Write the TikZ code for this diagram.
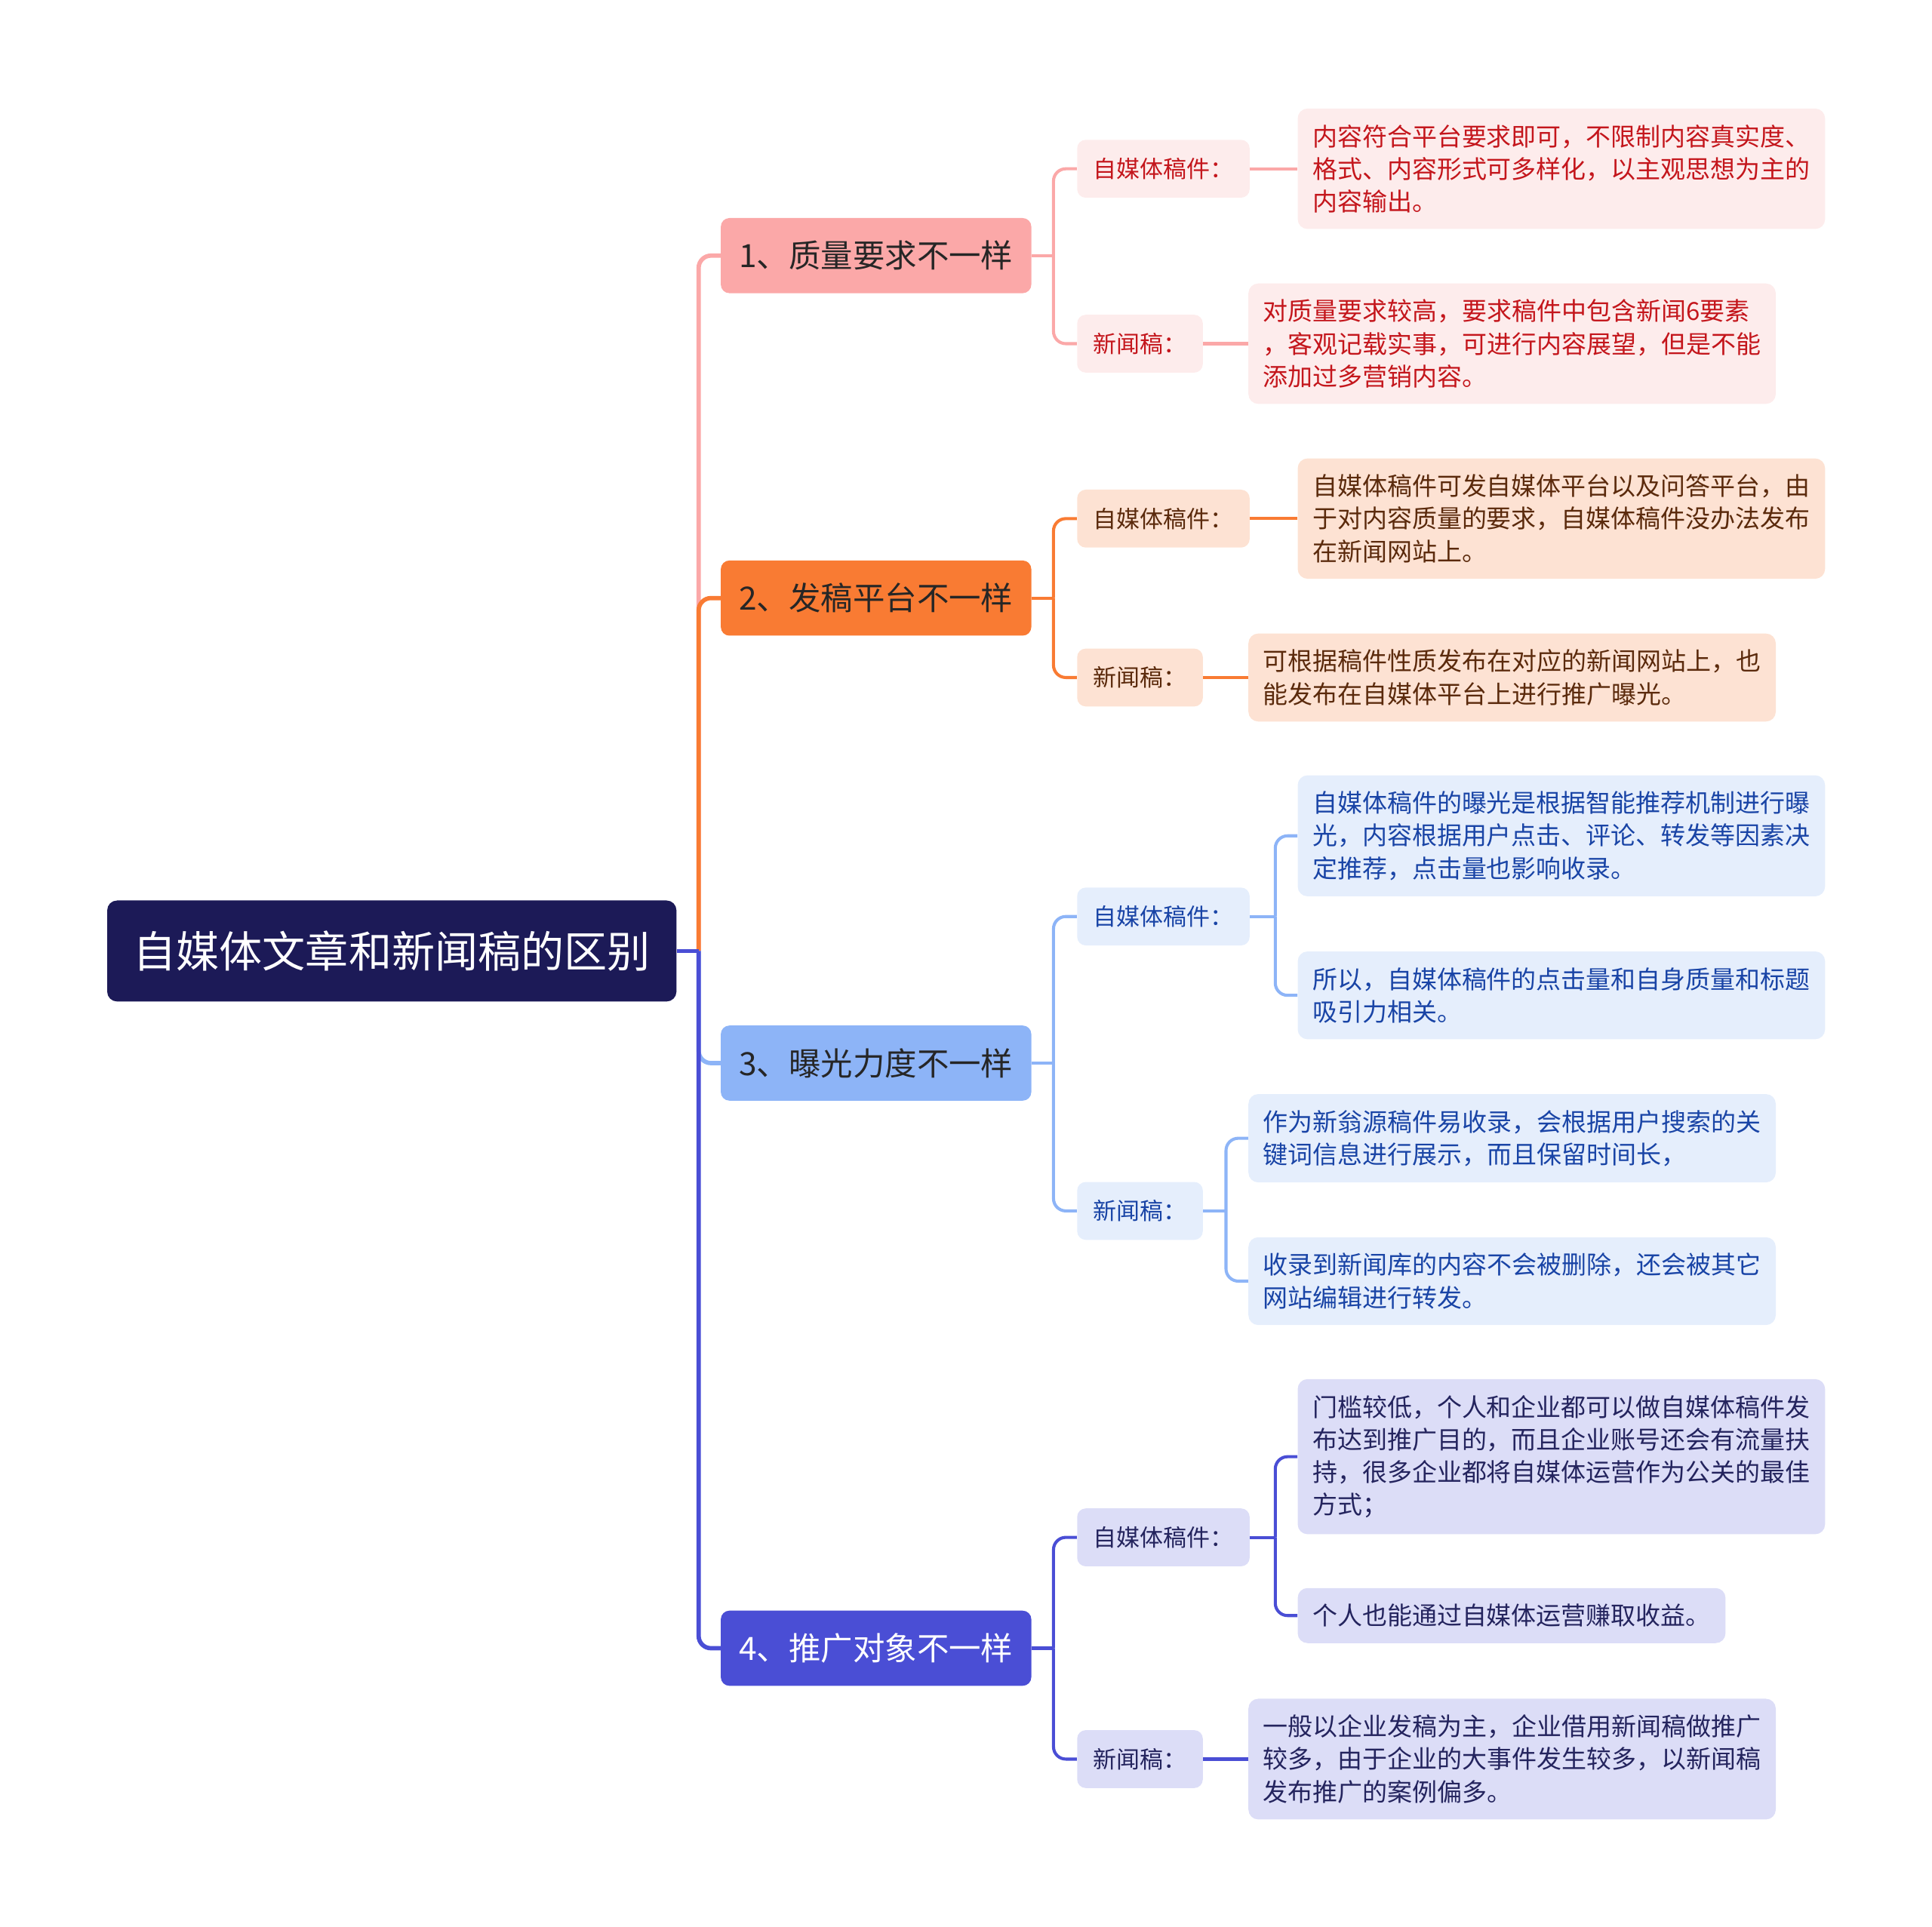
\documentclass[tikz,border=0pt]{standalone}
\usepackage{fontspec}
\newfontfamily\cjk{Noto Sans CJK SC}
\usepackage{tikz}
\usetikzlibrary{positioning}
\usepackage{xcolor}
\definecolor{rootnavy}{HTML}{1C1A57}
\definecolor{pinkhead}{HTML}{FBA8A8}
\definecolor{pinksoft}{HTML}{FDECEC}
\definecolor{pinktext}{HTML}{C4161C}
\definecolor{orangehead}{HTML}{F97B33}
\definecolor{orangesoft}{HTML}{FDE2D3}
\definecolor{orangetext}{HTML}{5B2A0C}
\definecolor{bluehead}{HTML}{8DB4F7}
\definecolor{bluesoft}{HTML}{E5EEFC}
\definecolor{bluetext}{HTML}{1944A6}
\definecolor{indigohead}{HTML}{4A4ED5}
\definecolor{indigosoft}{HTML}{DCDDF7}
\definecolor{indigotext}{HTML}{24245E}

\begin{document}
\begin{tikzpicture}[
    x=1pt, y=-1pt,
    rootBox/.style={rectangle, rounded corners=8pt, fill=rootnavy, text=white, font=\cjk\fontsize{35}{40}\selectfont, minimum width=462pt, minimum height=82pt, inner sep=0pt},
    headBox/.style={rectangle, rounded corners=7pt, font=\cjk\fontsize{26}{30}\selectfont, minimum width=252pt, minimum height=61pt, inner sep=0pt},
    subBox/.style={rectangle, rounded corners=7pt, font=\cjk\fontsize{19}{24}\selectfont, minimum height=47pt, inner xsep=13pt, inner ysep=0pt, anchor=west},
    leafBox/.style={rectangle, rounded corners=8pt, font=\cjk\fontsize{20.2}{26.5}\selectfont, align=left, inner xsep=12pt, inner ysep=13pt, anchor=west},
    trunk/.style={line width=3.5pt, rounded corners=10pt},
    twig/.style={line width=2.5pt, rounded corners=10pt},
    qualHead/.style={headBox, fill=pinkhead, text=black!85},
    qualSub/.style={subBox, fill=pinksoft, text=pinktext},
    qualLeaf/.style={leafBox, fill=pinksoft, text=pinktext},
    platHead/.style={headBox, fill=orangehead, text=black!85},
    platSub/.style={subBox, fill=orangesoft, text=orangetext},
    platLeaf/.style={leafBox, fill=orangesoft, text=orangetext},
    expoHead/.style={headBox, fill=bluehead, text=black!85},
    expoSub/.style={subBox, fill=bluesoft, text=bluetext},
    expoLeaf/.style={leafBox, fill=bluesoft, text=bluetext},
    promoHead/.style={headBox, fill=indigohead, text=white},
    promoSub/.style={subBox, fill=indigosoft, text=indigotext},
    promoLeaf/.style={leafBox, fill=indigosoft, text=indigotext}
]
    \useasboundingbox (0,0) rectangle (1568,1564);

    \node[rootBox] (root) at (318,772) {自媒体文章和新闻稿的区别};

    \node[qualHead]  (qual)  at (711,207.5)  {1、质量要求不一样};
    \node[platHead]  (plat)  at (711,485.5)  {2、发稿平台不一样};
    \node[expoHead]  (expo)  at (711,863)    {3、曝光力度不一样};
    \node[promoHead] (promo) at (711,1338)   {4、推广对象不一样};

    \node[qualSub]  (qualSelf)  at (874,137)  {自媒体稿件：};
    \node[qualSub]  (qualNews)  at (874,279)  {新闻稿：};
    \node[platSub]  (platSelf)  at (874,421)  {自媒体稿件：};
    \node[platSub]  (platNews)  at (874,550)  {新闻稿：};
    \node[expoSub]  (expoSelf)  at (874,744)  {自媒体稿件：};
    \node[expoSub]  (expoNews)  at (874,983)  {新闻稿：};
    \node[promoSub] (promoSelf) at (874,1248) {自媒体稿件：};
    \node[promoSub] (promoNews) at (874,1428) {新闻稿：};

    \node[qualLeaf] (qualSelfTxt) at (1053,137) {内容符合平台要求即可，不限制内容真实度、\\格式、内容形式可多样化，以主观思想为主的\\内容输出。};
    \node[qualLeaf] (qualNewsTxt) at (1013,279) {对质量要求较高，要求稿件中包含新闻6要素\\，客观记载实事，可进行内容展望，但是不能\\添加过多营销内容。};
    \node[platLeaf] (platSelfTxt) at (1053,421) {自媒体稿件可发自媒体平台以及问答平台，由\\于对内容质量的要求，自媒体稿件没办法发布\\在新闻网站上。};
    \node[platLeaf] (platNewsTxt) at (1013,550) {可根据稿件性质发布在对应的新闻网站上，也\\能发布在自媒体平台上进行推广曝光。};
    \node[expoLeaf] (expoSelfA) at (1053,678.5) {自媒体稿件的曝光是根据智能推荐机制进行曝\\光，内容根据用户点击、评论、转发等因素决\\定推荐，点击量也影响收录。};
    \node[expoLeaf] (expoSelfB) at (1053,808) {所以，自媒体稿件的点击量和自身质量和标题\\吸引力相关。};
    \node[expoLeaf] (expoNewsA) at (1013,924) {作为新翁源稿件易收录，会根据用户搜索的关\\键词信息进行展示，而且保留时间长，};
    \node[expoLeaf] (expoNewsB) at (1013,1040) {收录到新闻库的内容不会被删除，还会被其它\\网站编辑进行转发。};
    \node[promoLeaf] (promoSelfA) at (1053,1182.5) {门槛较低，个人和企业都可以做自媒体稿件发\\布达到推广目的，而且企业账号还会有流量扶\\持，很多企业都将自媒体运营作为公关的最佳\\方式；};
    \node[promoLeaf] (promoSelfB) at (1053,1311.5) {个人也能通过自媒体运营赚取收益。};
    \node[promoLeaf] (promoNewsTxt) at (1013,1428) {一般以企业发稿为主，企业借用新闻稿做推广\\较多，由于企业的大事件发生较多，以新闻稿\\发布推广的案例偏多。};

    % joints
    \coordinate (rootJoint) at (567,772);
    \coordinate (qualJoint) at (855,207.5);
    \coordinate (platJoint) at (855,485.5);
    \coordinate (expoJoint) at (855,863);
    \coordinate (promoJoint) at (855,1338);
    \coordinate (expoSelfJoint) at (1035,744);
    \coordinate (expoNewsJoint) at (995,983);
    \coordinate (promoSelfJoint) at (1035,1248);

    % root to heads
    \draw[trunk, draw=pinkhead]   (rootJoint) |- (qual.west);
    \draw[trunk, draw=orangehead] (rootJoint) |- (plat.west);
    \draw[trunk, draw=bluehead]   (rootJoint) |- (expo.west);
    \draw[trunk, draw=indigohead] (rootJoint) |- (promo.west);
    \draw[trunk, draw=indigohead] (root.east) -- (rootJoint);

    % heads to subs
    \draw[twig, draw=pinkhead] (qual.east) -- (qualJoint);
    \draw[twig, draw=pinkhead] (qualJoint) |- (qualSelf.west);
    \draw[twig, draw=pinkhead] (qualJoint) |- (qualNews.west);
    \draw[twig, draw=orangehead] (plat.east) -- (platJoint);
    \draw[twig, draw=orangehead] (platJoint) |- (platSelf.west);
    \draw[twig, draw=orangehead] (platJoint) |- (platNews.west);
    \draw[twig, draw=bluehead] (expo.east) -- (expoJoint);
    \draw[twig, draw=bluehead] (expoJoint) |- (expoSelf.west);
    \draw[twig, draw=bluehead] (expoJoint) |- (expoNews.west);
    \draw[twig, draw=indigohead] (promo.east) -- (promoJoint);
    \draw[twig, draw=indigohead] (promoJoint) |- (promoSelf.west);
    \draw[twig, draw=indigohead] (promoJoint) |- (promoNews.west);

    % subs to leaves
    \draw[twig, draw=pinkhead] (qualSelf.east) -- (qualSelfTxt.west);
    \draw[twig, draw=pinkhead] (qualNews.east) -- (qualNewsTxt.west);
    \draw[twig, draw=orangehead] (platSelf.east) -- (platSelfTxt.west);
    \draw[twig, draw=orangehead] (platNews.east) -- (platNewsTxt.west);
    \draw[twig, draw=bluehead] (expoSelf.east) -- (expoSelfJoint);
    \draw[twig, draw=bluehead] (expoSelfJoint) |- (expoSelfA.west);
    \draw[twig, draw=bluehead] (expoSelfJoint) |- (expoSelfB.west);
    \draw[twig, draw=bluehead] (expoNews.east) -- (expoNewsJoint);
    \draw[twig, draw=bluehead] (expoNewsJoint) |- (expoNewsA.west);
    \draw[twig, draw=bluehead] (expoNewsJoint) |- (expoNewsB.west);
    \draw[twig, draw=indigohead] (promoSelf.east) -- (promoSelfJoint);
    \draw[twig, draw=indigohead] (promoSelfJoint) |- (promoSelfA.west);
    \draw[twig, draw=indigohead] (promoSelfJoint) |- (promoSelfB.west);
    \draw[twig, draw=indigohead] (promoNews.east) -- (promoNewsTxt.west);
\end{tikzpicture}
\end{document}
